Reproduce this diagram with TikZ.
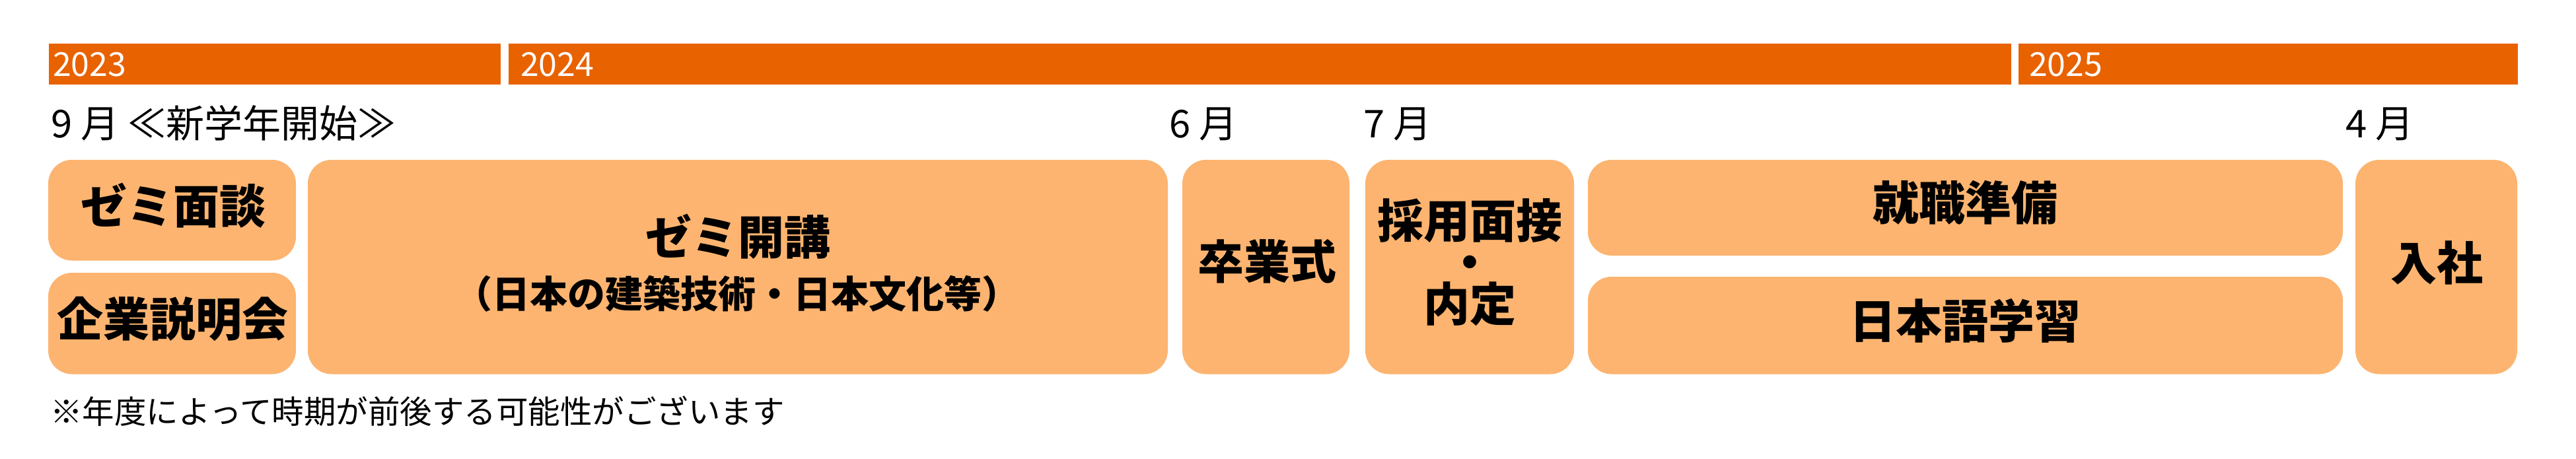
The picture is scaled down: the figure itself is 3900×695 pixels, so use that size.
\documentclass[tikz,border=0pt]{standalone}
\usepackage{fontspec}
\setmainfont{Noto Sans CJK JP}
\usetikzlibrary{fit}
\definecolor{barorange}{RGB}{233,98,0}
\definecolor{boxorange}{RGB}{252,180,112}
\begin{document}
\begin{tikzpicture}[x=1pt,y=-1pt,
  yearbar/.style={fill=barorange,draw=none,inner sep=0pt},
  yeartext/.style={text=white,inner sep=0pt,anchor=base west,font=\fontsize{50}{56}\selectfont},
  monthtext/.style={text=black,inner sep=0pt,anchor=base west,font=\fontsize{58}{64}\selectfont},
  stagebox/.style={fill=boxorange,draw=none,rounded corners=36pt,inner sep=0pt},
  stagetext/.style={text=black,inner sep=0pt,font=\fontsize{70}{78}\selectfont\bfseries},
  subtext/.style={text=black,inner sep=0pt,font=\fontsize{57}{64}\selectfont\bfseries},
  notetext/.style={text=black,inner sep=0pt,anchor=west,font=\fontsize{48.5}{54}\selectfont}]
\useasboundingbox (0,0) rectangle (3900,695);
\fill[white] (0,0) rectangle (3900,695);
% year bar
\node[yearbar,fit={(74,66) (758,128.5)}] (bar23) {};
\node[yearbar,fit={(770,66) (3045,128.5)}] (bar24) {};
\node[yearbar,fit={(3056,66) (3812,128.5)}] (bar25) {};
\node[yeartext] (y23) at (80,116) {2023};
\node[yeartext] (y24) at (788,116) {2024};
\node[yeartext] (y25) at (3072,116) {2025};
% months
\node[monthtext] (m9) at (77,208) {9 月 ≪新学年開始≫};
\node[monthtext] (m6) at (1770,208) {6 月};
\node[monthtext] (m7) at (2064,208) {7 月};
\node[monthtext] (m4) at (3551,208) {4 月};
% boxes
\node[stagebox,fit={(73,242) (448,394.5)}] (b1) {};
\node[stagebox,fit={(73,413) (448,566.5)}] (b2) {};
\node[stagebox,fit={(466,242) (1768,566.5)}] (b3) {};
\node[stagebox,fit={(1790,242) (2043,566.5)}] (b4) {};
\node[stagebox,fit={(2067,242) (2383,566.5)}] (b5) {};
\node[stagebox,fit={(2404,242) (3547,387)}] (b6) {};
\node[stagebox,fit={(2404,419) (3547,566.5)}] (b7) {};
\node[stagebox,fit={(3566,242) (3811,566.5)}] (b8) {};
% labels
\node[stagetext] (t1) at (262,311) {ゼミ面談};
\node[stagetext] (t2) at (261.5,483) {企業説明会};
\node[stagetext] (t3a) at (1117,358.5) {ゼミ開講};
\node[subtext] (t3b) at (1116,444.5) {（日本の建築技術・日本文化等）};
\node[stagetext] (t4) at (1918,396) {卒業式};
\node[stagetext,align=center,font=\fontsize{70}{63}\selectfont\bfseries] (t5) at (2225,397) {採用面接\\・\\内定};
\node[stagetext] (t6) at (2975,307) {就職準備};
\node[stagetext] (t7) at (2975,486) {日本語学習};
\node[stagetext] (t8) at (3689,397.5) {入社};
% footnote
\node[notetext] (note) at (76,623) {※年度によって時期が前後する可能性がございます};
\end{tikzpicture}
\end{document}
